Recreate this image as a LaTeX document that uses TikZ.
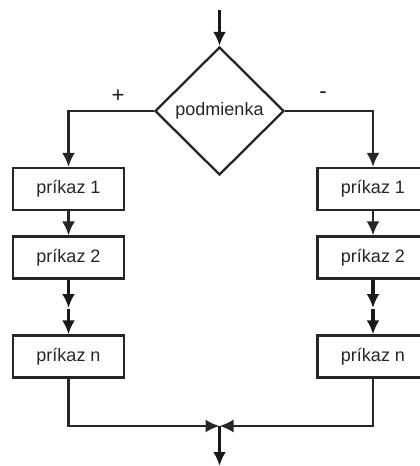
\documentclass[tikz,border=0pt]{standalone}
\usepackage{fontspec}
\setmainfont{Liberation Sans}
\usetikzlibrary{shapes.geometric,arrows.meta}
\begin{document}
\begin{tikzpicture}[x=1pt,y=-1pt,
  every node/.style={font=\fontsize{18}{21}\selectfont, text=black!85},
  cmd/.style={draw=black!85, line width=2.3pt, rectangle, minimum width=111pt, minimum height=42pt, inner sep=0pt},
  cond/.style={draw=black!85, line width=2.3pt, diamond, shape aspect=1, minimum width=129pt, minimum height=128pt, inner sep=0pt},
  ln/.style={draw=black!85, line width=2.3pt},
  arr/.style={draw=black!90, line width=3.2pt, -{Latex[length=14pt,width=13pt]}},
  thinarr/.style={draw=black!85, line width=2.3pt, -{Latex[length=14pt,width=13pt]}},
  lbl/.style={font=\fontsize{22}{24}\selectfont, text=black!90}]
\useasboundingbox (0,0) rectangle (420,466);
\node[cond] (c) at (219.5,111) {podmienka};
\coordinate (top) at (219.5,10);
\node[cmd] (l1) at (68.5,189) {príkaz 1};
\node[cmd] (l2) at (68.5,257.5) {príkaz 2};
\node[cmd] (ln) at (68.5,356.5) {príkaz n};
\node[cmd] (r1) at (373,189) {príkaz 1};
\node[cmd] (r2) at (373,257.5) {príkaz 2};
\node[cmd] (rn) at (373,356.5) {príkaz n};
\coordinate (lm) at (68.5,308);
\coordinate (lm2) at (68.5,309);
\coordinate (rm) at (373,308);
\coordinate (rm2) at (373,309);
\coordinate (lb) at (68.5,426);
\coordinate (rb) at (373,426);
\coordinate (j) at (219.5,426);
\coordinate (bot) at (219.5,466);
\node[lbl] (plus) at (118,96) {+};
\node[lbl] (minus) at (323,95) {-};
\draw[arr] (top) -- (c.north);
\draw[thinarr] (c.west) -| (l1.north);
\draw[thinarr] (c.east) -| (r1.north);
\draw[thinarr] (l1) -- (l2);
\draw[thinarr] (r1) -- (r2);
\draw[arr] (l2) -- (lm);
\draw[arr] (lm2) -- (ln);
\draw[arr] (r2) -- (rm);
\draw[arr] (rm2) -- (rn);
\draw[thinarr] (ln.south) -- (lb) -- (j);
\draw[thinarr] (rn.south) -- (rb) -- (j);
\draw[arr] (j) -- (bot);
\end{tikzpicture}
\end{document}
